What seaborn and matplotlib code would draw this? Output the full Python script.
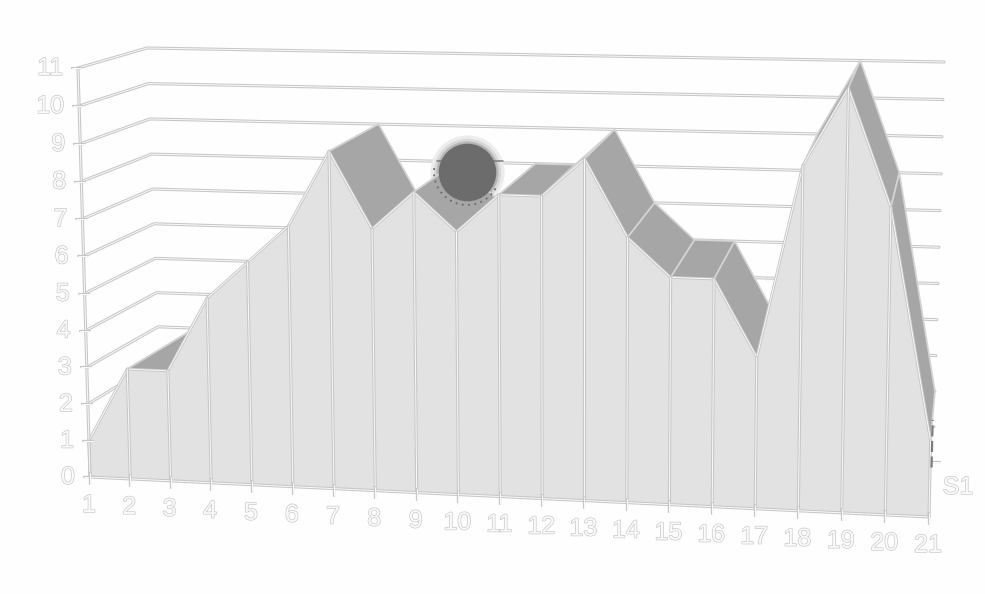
import numpy as np
import pandas as pd
import matplotlib
matplotlib.use("Agg")
import matplotlib.pyplot as plt
import matplotlib.patheffects as pe
from matplotlib.patches import Arc
from matplotlib.transforms import Transform
import seaborn as sns

# Series S1
categories = list(range(1, 22))
s1_values = [1, 3, 3, 5, 6, 7, 9, 7, 8, 7, 8, 8, 9, 7, 6, 6, 4, 9, 11, 8, 2]
value_ticks = list(range(0, 12))
series_name = "S1"

# Colours
AREA = "#e2e2e2"
TOP_FACE = "#a6a6a6"
LINE = "#c6c6c6"
TEXT_EDGE = "#c4c4c4"
SUN = "#6c6c6c"


class PlaneTransform(Transform):
    """Projects (category, value) onto a perspective plane given its four corners."""
    input_dims = output_dims = 2

    def __init__(self, bottom_left, bottom_right, top_left, top_right):
        super().__init__()
        src = [(1, 0), (21, 0), (1, 11), (21, 11)]
        dst = [bottom_left, bottom_right, top_left, top_right]
        rows, rhs = [], []
        for (x, y), (u, v) in zip(src, dst):
            rows.append([x, y, 1, 0, 0, 0, -u * x, -u * y])
            rows.append([0, 0, 0, x, y, 1, -v * x, -v * y])
            rhs += [u, v]
        self.h = np.append(np.linalg.solve(np.array(rows, float), np.array(rhs, float)), 1).reshape(3, 3)

    def transform_non_affine(self, values):
        pts = np.column_stack([values, np.ones(len(values))]) @ self.h.T
        return pts[:, :2] / pts[:, 2:]


front = PlaneTransform((90, 477), (929, 517), (78, 68), (938, 90))
back = PlaneTransform((162, 428), (933, 462), (147, 48), (944, 62))

sns.set_theme(style="white")
plt.rcParams["font.family"] = ["Liberation Sans", "DejaVu Sans"]

fig = plt.figure(figsize=(9.85, 5.94), dpi=100, facecolor="#fefefe")
ax = fig.add_axes([0, 0, 1, 1])
ax.set_axis_off()


def px(plane, x, y):
    x, y = np.broadcast_arrays(np.atleast_1d(x), np.atleast_1d(y))
    return plane.transform(np.column_stack([x, y]))


def stroke(points, zorder, color=LINE, lw=2.2, core=0.7, **kws):
    effects = [pe.Stroke(linewidth=lw, foreground=color)]
    if core:
        effects.append(pe.Stroke(linewidth=core, foreground="#fbfbfb"))
    frame = pd.DataFrame(points, columns=["px", "py"])
    sns.lineplot(data=frame, x="px", y="py", estimator=None, sort=False, ax=ax, color=color,
                 linewidth=lw, zorder=zorder, path_effects=effects, legend=False, **kws)


def label(text, xy, offset, zorder=8, **kws):
    ax.annotate(text, xy=xy, xytext=offset, textcoords="offset pixels", fontsize=18,
                color="#fafafa", zorder=zorder,
                path_effects=[pe.Stroke(linewidth=0.9, foreground=TEXT_EDGE), pe.Normal()], **kws)


# Gridlines: along the left wall, then across the back wall
for v in value_ticks[1:]:
    p0 = px(front, 1, v)
    p1 = px(back, 1, v)
    p2 = px(back, 21, v)
    stroke(np.vstack([p0, p1, p2]), zorder=1)

# Short tail of the floor line past the last category
floor_end = px(back, 21, 0)[0]
stroke([(floor_end[0] - 3, floor_end[1]), (floor_end[0] + 7, floor_end[1])], zorder=1, lw=1.6)

# Stepped halo behind the round marker
sun_xy = (467, 172)
ax.scatter(*sun_xy, s=2850, color="#ececec", linewidths=0, zorder=1.5)
ax.scatter(*sun_xy, s=2350, color="#d8d8d8", linewidths=0, zorder=1.6)
ax.scatter(*sun_xy, s=2000, color="#b6b6b6", linewidths=0, zorder=1.7)

# Top faces of the ribbon between neighbouring categories
for i in range(len(categories) - 1):
    x0, x1 = categories[i], categories[i + 1]
    y0, y1 = s1_values[i], s1_values[i + 1]
    quad = np.vstack([px(front, x0, y0), px(front, x1, y1), px(back, x1, y1), px(back, x0, y0)])
    ax.fill(quad[:, 0], quad[:, 1], facecolor=TOP_FACE, edgecolor="#d4d4d4", linewidth=1.2, zorder=2)

# Front face of the area
x_all = np.array(categories + [categories[-1], categories[0]])
y_all = np.array(s1_values + [0, 0])
face = px(front, x_all, y_all)
ax.fill(face[:, 0], face[:, 1], facecolor=AREA, edgecolor="none", zorder=3)
stroke(px(front, categories, s1_values), zorder=4, lw=2.0)

# Drop lines from each point to the baseline
for c, v in zip(categories, s1_values):
    stroke(px(front, [c, c], [0, v]), zorder=4)

# Value axis and category axis with their ticks
stroke(px(front, [1, 1], [0, 11]), zorder=5)
stroke(px(front, [1, 21], [0, 0]), zorder=5)
for v in value_ticks:
    p = px(front, 1, v)[0]
    stroke([(p[0] - 6, p[1]), (p[0] + 4, p[1])], zorder=5, lw=1.6)
    label(str(v), p, (-15, 0), ha="right", va="center")
for c in categories:
    p = px(front, c, 0)[0]
    stroke([(p[0], p[1] - 4), (p[0], p[1] + 7)], zorder=5, lw=1.6)
    label(str(c), p, (-1, -28), ha="center", va="center")

# Thin end cap of the ribbon at the last category
cap = (px(front, 21, [0.6, 1.9]) + px(back, 21, [0.6, 1.9])) / 2
stroke(cap, zorder=6, color="#7d7d7d", lw=1.6, core=0, linestyle=(0, (5, 2)))

# Round marker and its surroundings
ax.scatter(*sun_xy, s=1720, color=SUN, linewidths=0, zorder=7)
ax.add_patch(Arc(sun_xy, 66, 66, theta1=30, theta2=190, color="#6a6a6a", lw=1.3,
                 linestyle=(0, (1, 2.5)), zorder=6.5))
stroke([(sun_xy[0] - 30, 161), (sun_xy[0] + 36, 161)], zorder=6.5, color="#7a7a7a", lw=1.1, core=0)

# Series name at the depth axis
label(series_name, px(front, 21, 0)[0], (29, 30), ha="center", va="center")

ax.set_xlim(0, 985)
ax.set_ylim(594, 0)
ax.set_xlabel("")
ax.set_ylabel("")
fig.savefig("out.png", dpi=100, facecolor=fig.get_facecolor())
